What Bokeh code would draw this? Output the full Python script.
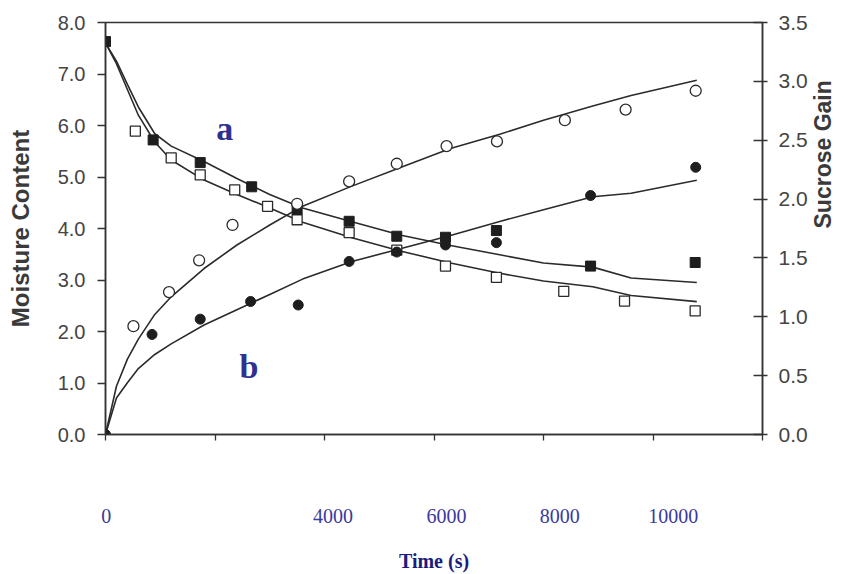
import math
from bokeh.plotting import figure
from bokeh.models import Range1d, LinearAxis, FixedTicker, Label, NumeralTickFormatter
from bokeh.embed import file_html
from bokeh.resources import INLINE

# ---- data ----
curve_t = [0, 200, 400, 600, 900, 1200, 1800, 2400, 3000, 3600, 4500, 5400, 6300, 7200, 8000, 8900, 9600, 10800]
fit_moist_upper = [7.6, 7.25, 6.8, 6.36, 5.84, 5.6, 5.3, 4.97, 4.66, 4.40, 4.13, 3.87, 3.67, 3.49, 3.33, 3.25, 3.04, 2.95]
fit_moist_lower = [7.6, 7.2, 6.7, 6.2, 5.68, 5.33, 4.94, 4.66, 4.40, 4.12, 3.82, 3.56, 3.33, 3.13, 2.98, 2.87, 2.70, 2.58]
fit_suc_upper = [0, 0.41, 0.64, 0.81, 1.02, 1.17, 1.41, 1.61, 1.78, 1.94, 2.11, 2.27, 2.43, 2.55, 2.67, 2.79, 2.88, 3.01]
fit_suc_lower = [0, 0.31, 0.44, 0.56, 0.68, 0.77, 0.93, 1.06, 1.19, 1.32, 1.47, 1.58, 1.69, 1.81, 1.91, 2.02, 2.05, 2.16]

t_filled_sq = [0, 870, 1730, 2670, 3500, 4450, 5320, 6210, 7140, 8860, 10770]
moist_filled = [7.63, 5.72, 5.28, 4.81, 4.37, 4.14, 3.85, 3.83, 3.96, 3.27, 3.34]
t_open_sq = [545, 1200, 1730, 2360, 2960, 3500, 4450, 5320, 6210, 7140, 8370, 9480, 10770]
moist_open = [5.89, 5.37, 5.04, 4.75, 4.43, 4.17, 3.92, 3.58, 3.27, 3.05, 2.78, 2.59, 2.40]
t_open_circ = [510, 1160, 1710, 2320, 3500, 4450, 5320, 6230, 7150, 8390, 9500, 10780]
suc_open = [0.92, 1.21, 1.48, 1.78, 1.96, 2.15, 2.30, 2.45, 2.49, 2.67, 2.76, 2.92]
t_filled_circ = [0, 850, 1730, 2650, 3520, 4450, 5320, 6210, 7140, 8860, 10780]
suc_filled = [0, 0.85, 0.98, 1.13, 1.10, 1.47, 1.55, 1.61, 1.63, 2.03, 2.27]

x_ticks = [0, 2000, 4000, 6000, 8000, 10000, 12000]
x_label_ticks = [0, 4000, 6000, 8000, 10000]
y_ticks_left = [0, 1, 2, 3, 4, 5, 6, 7, 8]
y_ticks_right = [0, 0.5, 1.0, 1.5, 2.0, 2.5, 3.0, 3.5]

INK = "#2b2b2b"
AX = "#333333"
BLUE = "#3a3a9c"

p = figure(width=851, height=574, x_range=Range1d(0, 12000), y_range=Range1d(0, 8),
           output_backend="svg", toolbar_location=None,
           min_border_left=105, min_border_right=85, min_border_top=22, min_border_bottom=138)
p.background_fill_color = "white"
p.border_fill_color = "white"
p.xgrid.visible = False
p.ygrid.visible = False
p.outline_line_color = AX
p.outline_line_width = 1.5

p.extra_y_ranges = {"suc": Range1d(0, 3.5)}
p.extra_x_ranges = {"lbl": Range1d(-14, 11576)}

# fitted curves
p.line(curve_t, fit_moist_upper, line_color=INK, line_width=1.6)
p.line(curve_t, fit_moist_lower, line_color=INK, line_width=1.6)
p.line(curve_t, fit_suc_upper, line_color=INK, line_width=1.6, y_range_name="suc")
p.line(curve_t, fit_suc_lower, line_color=INK, line_width=1.6, y_range_name="suc")

# measured points
p.scatter(t_open_sq, moist_open, marker="square", size=10, fill_color="white", line_color=INK, line_width=1.3)
p.scatter(t_filled_sq, moist_filled, marker="square", size=10, fill_color="#1e1e1e", line_color="#1e1e1e")
p.scatter(t_open_circ, suc_open, marker="circle", size=11, fill_color="white", line_color=INK, line_width=1.3,
          y_range_name="suc")
p.scatter(t_filled_circ, suc_filled, marker="circle", size=10, fill_color="#1e1e1e", line_color="#1e1e1e",
          y_range_name="suc")

# left axis
ya = p.yaxis[0]
ya.ticker = FixedTicker(ticks=y_ticks_left)
ya.formatter = NumeralTickFormatter(format="0.0")
ya.major_tick_in = 0
ya.major_tick_out = 8
ya.minor_tick_line_color = None
ya.axis_line_color = AX
ya.axis_line_width = 1.5
ya.major_tick_line_color = AX
ya.major_tick_line_width = 1.3
ya.major_label_text_font = "Liberation Sans"
ya.major_label_text_font_size = "20px"
ya.major_label_text_color = "#444444"
ya.major_label_standoff = 12
ya.axis_label = "Moisture Content"
ya.axis_label_text_font = "Liberation Sans"
ya.axis_label_text_font_size = "24px"
ya.axis_label_text_font_style = "bold"
ya.axis_label_text_color = "#3a3a3a"
ya.axis_label_standoff = 21

# right axis
yr = LinearAxis(y_range_name="suc", ticker=FixedTicker(ticks=y_ticks_right),
                formatter=NumeralTickFormatter(format="0.0"))
yr.major_tick_in = 9
yr.major_tick_out = 5
yr.minor_tick_line_color = None
yr.axis_line_color = AX
yr.axis_line_width = 1.5
yr.major_tick_line_color = AX
yr.major_tick_line_width = 1.3
yr.major_label_text_font = "Liberation Sans"
yr.major_label_text_font_size = "21px"
yr.major_label_text_color = "#444444"
yr.major_label_standoff = 11
yr.axis_label = "Sucrose Gain"
yr.axis_label_orientation = math.pi / 2
yr.axis_label_text_font = "Liberation Sans"
yr.axis_label_text_font_size = "23px"
yr.axis_label_text_font_style = "bold"
yr.axis_label_text_color = "#3a3a3a"
yr.axis_label_standoff = 12
p.add_layout(yr, "right")

# bottom axis (ticks only)
xa = p.xaxis[0]
xa.ticker = FixedTicker(ticks=x_ticks)
xa.major_tick_in = 0
xa.major_tick_out = 6
xa.minor_tick_line_color = None
xa.axis_line_color = AX
xa.axis_line_width = 1.5
xa.major_tick_line_color = AX
xa.major_tick_line_width = 1.3
xa.major_label_text_font_size = "1px"
xa.major_label_text_alpha = 0
xa.major_label_standoff = 0

# overlaid blue tick labels and title
xl = LinearAxis(x_range_name="lbl", ticker=FixedTicker(ticks=x_label_ticks))
xl.axis_line_color = None
xl.major_tick_line_color = None
xl.minor_tick_line_color = None
xl.major_label_text_font = "Liberation Serif"
xl.major_label_text_font_size = "20px"
xl.major_label_text_color = BLUE
xl.major_label_standoff = 62
xl.axis_label = "Time (s)"
xl.axis_label_text_font = "Liberation Serif"
xl.axis_label_text_font_size = "20px"
xl.axis_label_text_font_style = "bold"
xl.axis_label_text_color = "#1c1c7c"
xl.axis_label_standoff = 24
p.add_layout(xl, "below")

# panel letters
p.add_layout(Label(x=2180, y=5.95, text="a", text_font="Liberation Serif", text_font_style="bold",
                   text_font_size="34px", text_color="#2e3192", text_align="center", text_baseline="alphabetic"))
p.add_layout(Label(x=2620, y=1.32, text="b", text_font="Liberation Serif", text_font_style="bold",
                   text_font_size="34px", text_color="#2e3192", text_align="center", text_baseline="alphabetic"))

open("out.html", "w").write(file_html(p, INLINE))
